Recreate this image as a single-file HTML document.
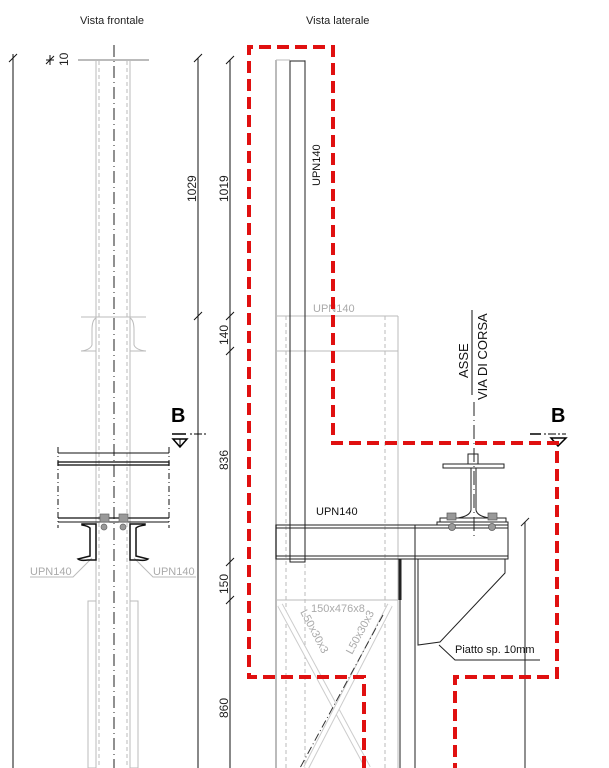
<!DOCTYPE html>
<html><head><meta charset="utf-8"><style>
html,body{margin:0;padding:0;background:#fff;}
svg{display:block;font-family:"Liberation Sans",sans-serif;}
</style></head><body>
<svg width="609" height="768" viewBox="0 0 609 768" xmlns="http://www.w3.org/2000/svg">
<rect width="609" height="768" fill="#fff"/>
<text x="80" y="24" font-size="11" fill="#222">Vista frontale</text>
<text x="306" y="24" font-size="11" fill="#222">Vista laterale</text>

<g stroke="#111" stroke-width="1" fill="none">
<line x1="13" y1="58" x2="13" y2="768"/>
<line x1="9" y1="62" x2="17" y2="54"/><line x1="13" y1="54" x2="13" y2="62"/>
<line x1="46" y1="64" x2="54" y2="56"/><line x1="46" y1="60" x2="54" y2="60"/><line x1="50" y1="55" x2="50" y2="65"/>
<line x1="198" y1="58" x2="198" y2="768"/>
<line x1="194" y1="62" x2="202" y2="54"/>
<line x1="194" y1="320" x2="202" y2="312"/>
<line x1="230" y1="60" x2="230" y2="768"/>
<line x1="226" y1="64" x2="234" y2="56"/>
<line x1="226" y1="320" x2="234" y2="312"/>
<line x1="226" y1="355" x2="234" y2="347"/>
<line x1="226" y1="566" x2="234" y2="558"/>
<line x1="226" y1="604" x2="234" y2="596"/>
</g>
<g font-size="12" fill="#222">
<text transform="translate(68,66) rotate(-90)">10</text>
<text transform="translate(196,202) rotate(-90)">1029</text>
<text transform="translate(228,202) rotate(-90)">1019</text>
<text transform="translate(228,345) rotate(-90)">140</text>
<text transform="translate(228,470) rotate(-90)">836</text>
<text transform="translate(228,594) rotate(-90)">150</text>
<text transform="translate(228,718) rotate(-90)">860</text>
</g>

<g stroke="#bbb" stroke-width="1" fill="none">
<line x1="78" y1="60" x2="149" y2="60" stroke-width="2"/>
<line x1="96" y1="61" x2="96" y2="768"/>
<line x1="130" y1="61" x2="130" y2="768"/>
<line x1="99" y1="61" x2="99" y2="768" stroke-dasharray="4 3"/>
<line x1="127" y1="61" x2="127" y2="768" stroke-dasharray="4 3"/>
<line x1="81" y1="317" x2="146" y2="317"/>
<path d="M96 318 Q92 320 92 330 L92 345 Q90 350 81 351 L96 351"/>
<path d="M130 318 Q134 320 134 330 L134 345 Q136 350 146 351 L130 351"/>
<rect x="88" y="601" width="8" height="167"/>
<rect x="130" y="601" width="8" height="167"/>
<path d="M30 577 L73 577 L92 558"/>
<path d="M196 577 L153 577 L134 558"/>
</g>
<line x1="114" y1="45" x2="114" y2="768" stroke="#222" stroke-width="1" stroke-dasharray="12 4 1 4"/>
<g font-size="11" fill="#aaa">
<text x="30" y="575">UPN140</text>
<text x="153" y="575">UPN140</text>
</g>
<g stroke="#111" stroke-width="1" fill="none">
<line x1="58" y1="453" x2="169" y2="453"/>
<line x1="58" y1="447" x2="58" y2="528" stroke-dasharray="6 3 1 3"/>
<line x1="169" y1="447" x2="169" y2="528" stroke-dasharray="6 3 1 3"/>
<rect x="58" y="462" width="111" height="3" stroke-width="1.3"/>
<line x1="58" y1="518" x2="169" y2="518" stroke-width="1.3"/>
<line x1="58" y1="522" x2="169" y2="522"/>
<path d="M82 524 L96 524 L96 560 L88 560 Q80 561 78 559 L90 556 L90 528 Q88 526 82 525Z" stroke-width="1.5"/>
<path d="M145 524 L130 524 L130 560 L138 560 Q146 561 148 559 L136 556 L136 528 Q138 526 145 525Z" stroke-width="1.5"/>
</g>
<g fill="#999" stroke="#666" stroke-width="0.7">
<rect x="100" y="514" width="9" height="8"/><circle cx="104" cy="527" r="3"/>
<rect x="119" y="514" width="9" height="8"/><circle cx="123" cy="527" r="3"/>
</g>
<text x="171" y="422" font-size="20" font-weight="bold" fill="#000">B</text>
<line x1="172" y1="434" x2="186" y2="434" stroke="#000" stroke-width="1.5"/>
<line x1="190" y1="434" x2="208" y2="434" stroke="#000" stroke-width="1" stroke-dasharray="2 2 8 2"/>
<path d="M173 439 L187 439 L180 447Z" fill="none" stroke="#000" stroke-width="1.5"/>
<line x1="180" y1="439" x2="180" y2="446" stroke="#000"/>

<g stroke="#bbb" stroke-width="1" fill="none">
<line x1="276" y1="60" x2="276" y2="768" stroke-width="2"/>
<line x1="276" y1="60" x2="290" y2="60"/>
<line x1="305" y1="60" x2="305" y2="768" stroke-dasharray="4 3"/>
<line x1="286" y1="316" x2="286" y2="768" stroke-dasharray="4 3"/>
<line x1="385" y1="316" x2="385" y2="768" stroke-dasharray="4 3"/>
<line x1="276" y1="316" x2="398" y2="316"/>
<line x1="276" y1="351" x2="398" y2="351"/>
<line x1="398" y1="316" x2="398" y2="768"/>
<line x1="276" y1="600" x2="398" y2="600"/>
<line x1="280" y1="605" x2="368" y2="768" stroke-width="6" stroke="#ccc"/>
<line x1="280" y1="605" x2="368" y2="768" stroke-width="4" stroke="#fff"/>
<line x1="390" y1="605" x2="306" y2="768" stroke-width="6" stroke="#ccc"/>
<line x1="390" y1="605" x2="306" y2="768" stroke-width="4" stroke="#fff"/>
<line x1="383" y1="615" x2="300" y2="768" stroke="#333" stroke-dasharray="8 3 1 3"/>
</g>
<g font-size="11" fill="#aaa">
<text x="313" y="312">UPN140</text>
<text x="311" y="612">150x476x8</text>
<text transform="translate(300,612) rotate(62)">L50x30x3</text>
<text transform="translate(352,655) rotate(-62)">L50x30x3</text>
</g>
<rect x="290" y="61" width="15" height="501" fill="none" stroke="#222" stroke-width="1"/>
<text transform="translate(320,186) rotate(-90)" font-size="11" fill="#111">UPN140</text>
<text x="316" y="515" font-size="11" fill="#111">UPN140</text>
<g stroke="#222" stroke-width="1" fill="none">
<rect x="276" y="525" width="232" height="34"/>
<line x1="276" y1="528" x2="508" y2="528"/>
<line x1="276" y1="556" x2="508" y2="556"/>
<line x1="415" y1="525" x2="415" y2="768"/>
<line x1="400" y1="559" x2="400" y2="768"/>
<line x1="400" y1="559" x2="400" y2="600" stroke-width="3"/>
<path d="M418 559 L505 559 L505 573 L440 642 L418 645 Z"/>
<path d="M439 645 L455 660 L540 660"/>
<line x1="525" y1="522" x2="525" y2="768"/>
<line x1="521" y1="526" x2="529" y2="518"/>
<rect x="443" y="464" width="61" height="4"/>
<rect x="468" y="454" width="10" height="10"/>
<path d="M471 468 L471 510 Q470 516 458 518 M476 468 L476 510 Q477 516 489 518"/>
<rect x="440" y="518" width="66" height="4"/>
<rect x="437" y="522" width="71" height="3"/>
</g>
<line x1="474" y1="402" x2="474" y2="540" stroke="#222" stroke-dasharray="14 4 1 4"/>
<g fill="#999" stroke="#555" stroke-width="0.7">
<rect x="447" y="513" width="9" height="7"/><circle cx="452" cy="527" r="3.5"/>
<rect x="488" y="513" width="9" height="7"/><circle cx="492" cy="527" r="3.5"/>
</g>
<g font-size="13" fill="#111">
<text transform="translate(468,378) rotate(-90)">ASSE</text>
<line x1="472" y1="395" x2="472" y2="310" stroke="#111"/>
<text transform="translate(487,400) rotate(-90)">VIA DI CORSA</text>
</g>
<text x="455" y="653" font-size="11" fill="#111">Piatto sp. 10mm</text>

<text x="551" y="422" font-size="20" font-weight="bold" fill="#000">B</text>
<line x1="530" y1="434" x2="541" y2="434" stroke="#000" stroke-width="1.5"/>
<line x1="544" y1="434" x2="566" y2="434" stroke="#000" stroke-dasharray="2 2 8 2"/>
<path d="M551 438 L566 438 L558 446Z" fill="none" stroke="#000" stroke-width="1.5"/>

<path d="M364 768 L364 677 L249 677 L249 47 L333 47 L333 443 L557 443 L557 677 L455 677 L455 768" fill="none" stroke="#e01010" stroke-width="4" stroke-dasharray="12 6"/>
</svg>
</body></html>
